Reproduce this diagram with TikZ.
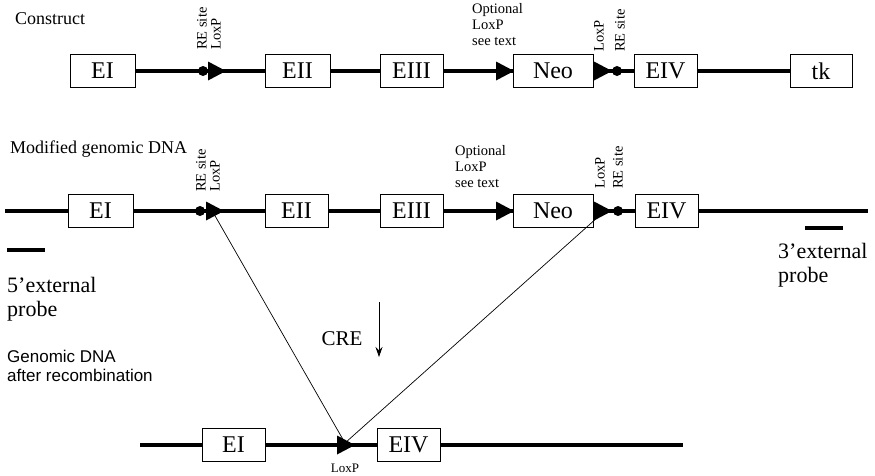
\documentclass[tikz,border=0pt]{standalone}
\usepackage{fontspec}
\setmainfont{Liberation Serif}
\newfontfamily\sansf{Liberation Sans}
\usetikzlibrary{arrows.meta}
\tikzset{
 exon/.style={draw, line width=0.8pt, minimum height=33pt, inner sep=0pt, font=\fontsize{24}{26}\selectfont},
 dna/.style={line width=3.2pt},
 thinl/.style={line width=0.7pt},
 rot/.style={rotate=90, anchor=west, inner sep=0pt, font=\fontsize{14.5}{16}\selectfont},
 small/.style={font=\fontsize{14.5}{16}\selectfont, align=left, inner sep=0pt, anchor=north west},
 head/.style={font=\fontsize{18}{20}\selectfont, anchor=west, inner sep=0pt},
 big/.style={font=\fontsize{22}{24}\selectfont, align=left, anchor=north west, inner sep=0pt},
 loxp/.pic={\fill (-9,-9.5) -- (9,0) -- (-9,9.5) -- cycle;},
 resite/.pic={\fill (0,0) circle (5);},
}
\begin{document}
\begin{tikzpicture}[x=1pt,y=-1pt]
\useasboundingbox (0,0) rectangle (875,475);

% ---------- Row 1: Construct ----------
\node[head] (h1) at (15,19) {Construct};
\node[exon, minimum width=65pt] (a1) at (102.5,71) {EI};
\node[exon, minimum width=65pt] (a2) at (297.5,71) {EII};
\node[exon, minimum width=63pt] (a3) at (411.5,71) {EIII};
\node[exon, minimum width=80pt] (a4) at (553,71) {Neo};
\node[exon, minimum width=63pt] (a5) at (665.5,71) {EIV};
\node[exon, minimum width=62pt] (a6) at (821,71) {tk};
\coordinate (ad1) at (203,71);
\coordinate (al1) at (217,71);
\coordinate (al2) at (505,71);
\coordinate (al3) at (603,71);
\coordinate (ad2) at (617,71);
\draw[dna] (a1) -- (ad1) -- (al1) -- (a2);
\draw[dna] (a2) -- (a3);
\draw[dna] (a3) -- (al2) -- (a4);
\draw[dna] (a4) -- (al3) -- (ad2) -- (a5);
\draw[dna] (a5) -- (a6);
\pic at (ad1) {resite};
\pic at (ad2) {resite};
\pic at (al1) {loxp};
\pic at (al2) {loxp};
\pic at (al3) {loxp};
\node[rot] (t1) at (202,50) {RE site};
\node[rot] (t2) at (216,50) {LoxP};
\node[rot] (t3) at (599,52) {LoxP};
\node[rot] (t4) at (620,52) {RE site};
\node[small] (o1) at (472,3) {Optional\\LoxP\\see text};

% ---------- Row 2: Modified genomic DNA ----------
\node[head] (h2) at (10,149) {Modified genomic DNA};
\coordinate (bs) at (5,211);
\node[exon, minimum width=65pt] (b1) at (100.5,211) {EI};
\node[exon, minimum width=63pt] (b2) at (296.5,211) {EII};
\node[exon, minimum width=63pt] (b3) at (411.5,211) {EIII};
\node[exon, minimum width=80pt] (b4) at (553,211) {Neo};
\node[exon, minimum width=63pt] (b5) at (666.5,211) {EIV};
\coordinate (be) at (868,211);
\coordinate (bd1) at (200,211);
\coordinate (bl1) at (215,211);
\coordinate (bl2) at (505,211);
\coordinate (bl3) at (603,211);
\coordinate (bd2) at (618,211);
\draw[dna] (bs) -- (b1) -- (bd1) -- (bl1) -- (b2);
\draw[dna] (b2) -- (b3);
\draw[dna] (b3) -- (bl2) -- (b4);
\draw[dna] (b4) -- (bl3) -- (bd2) -- (b5);
\draw[dna] (b5) -- (be);
\node[rot] (u1) at (201,192) {RE site};
\node[rot] (u2) at (215,192) {LoxP};
\node[rot] (u3) at (600,189) {LoxP};
\node[rot] (u4) at (618,189) {RE site};
\node[small] (o2) at (455,145) {Optional\\LoxP\\see text};

% probes
\coordinate (p5a) at (7,250);
\coordinate (p5b) at (45,250);
\coordinate (p3a) at (805,228);
\coordinate (p3b) at (843,228);
\draw[dna] (p5a) -- (p5b);
\draw[dna] (p3a) -- (p3b);
\node[big] (e5) at (7,277) {5’external\\probe};
\node[big] (e3) at (778,243) {3’external\\probe};

% ---------- Row 3: after recombination ----------
\node[font=\sansf\fontsize{17}{19}\selectfont, align=left, anchor=north west, inner sep=0pt] (h3) at (7,350) {Genomic DNA\\after recombination};
\coordinate (cs) at (140,445);
\node[exon, minimum width=63pt] (c1) at (233.5,445) {EI};
\coordinate (cl) at (346,445);
\node[exon, minimum width=63pt] (c2) at (408.5,445) {EIV};
\coordinate (ce) at (683,445);
\node[font=\fontsize{13}{14}\selectfont, inner sep=0pt] (lx) at (345,468) {LoxP};

% recombination lines
\coordinate (rx1) at (214,214);
\coordinate (rx2) at (598,217);
\coordinate (rxc) at (345,443);
\draw[thinl] (rx1) -- (rxc);
\draw[thinl] (rx2) -- (rxc);

\draw[dna] (cs) -- (c1) -- (cl) -- (c2) -- (ce);
\pic at (cl) {loxp};
\pic at (bl1) {loxp};
\pic at (bl2) {loxp};
\pic at (bl3) {loxp};
\pic at (bd1) {resite};
\pic at (bd2) {resite};

% CRE arrow
\node[font=\fontsize{21}{24}\selectfont, inner sep=0pt] (cre) at (342,339) {CRE};
\coordinate (ar1) at (379,302);
\coordinate (ar2) at (379,357);
\draw[line width=0.8pt, -{Stealth[length=10pt,width=7pt]}] (ar1) -- (ar2);
\end{tikzpicture}
\end{document}
